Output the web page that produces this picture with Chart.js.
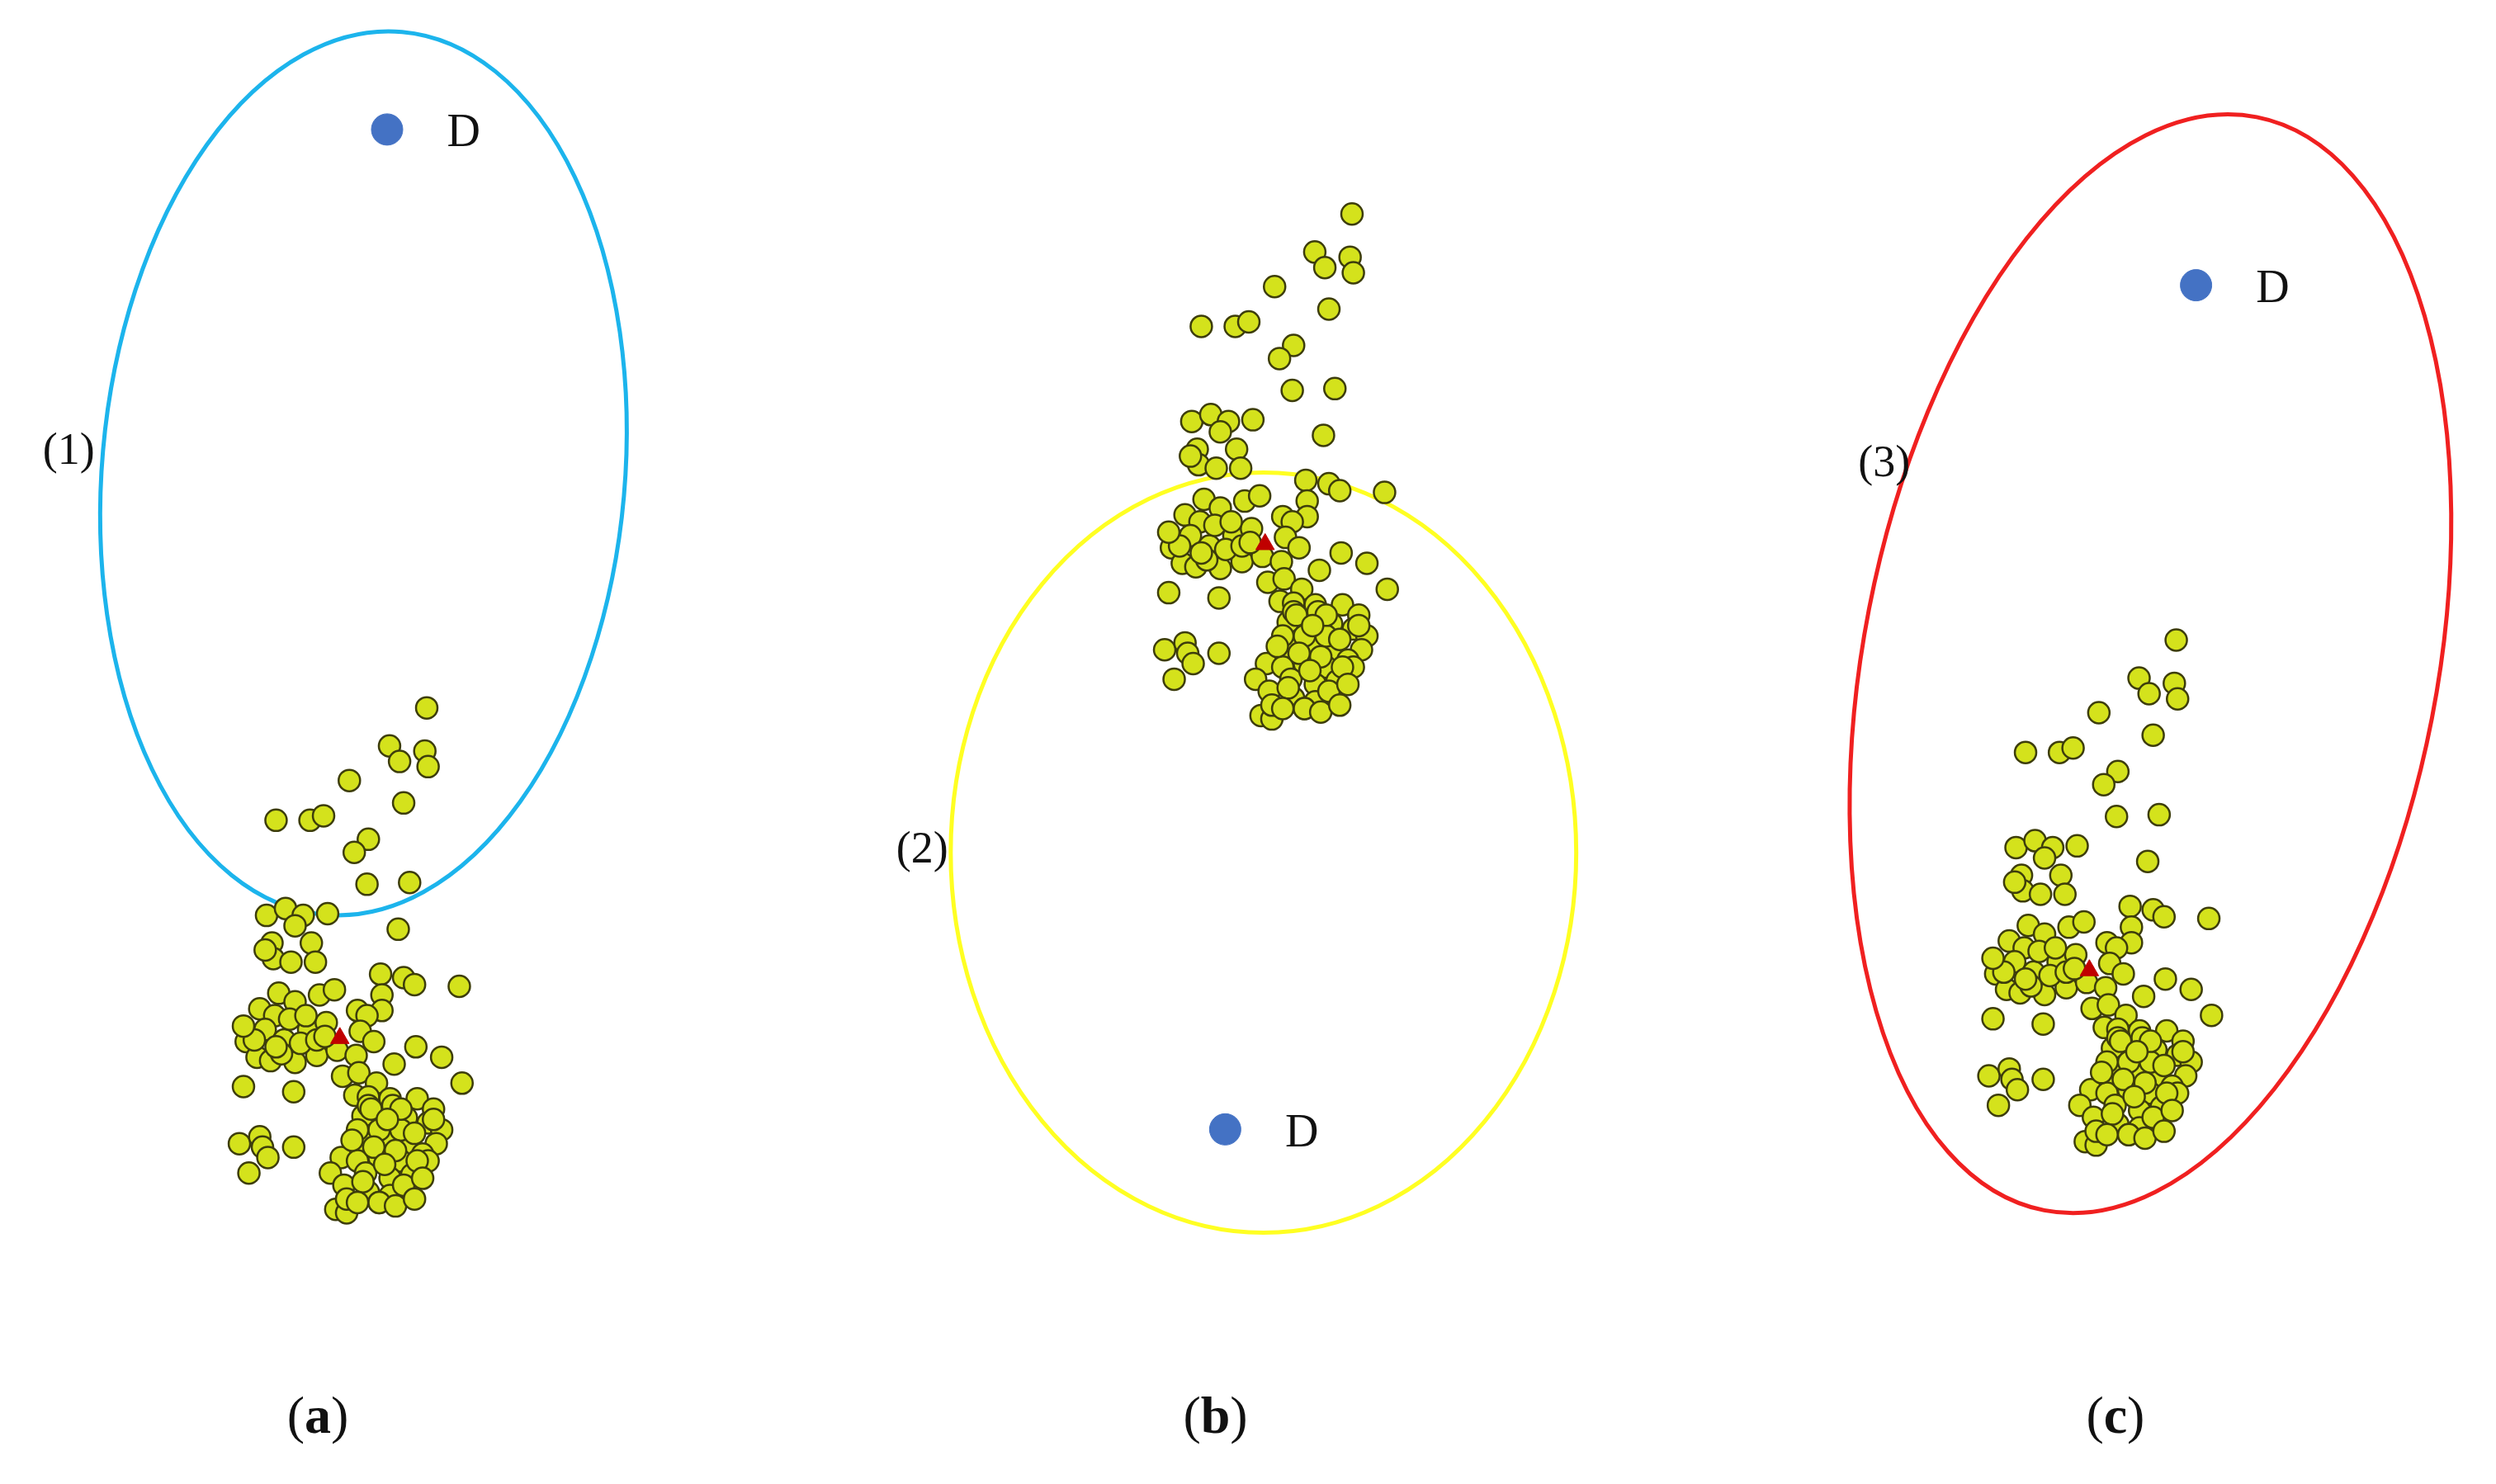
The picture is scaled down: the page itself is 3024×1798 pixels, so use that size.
<!DOCTYPE html>
<html>
<head>
<meta charset="utf-8">
<script src="https://cdn.jsdelivr.net/npm/chart.js@4/dist/chart.umd.min.js"></script>
<style>
  html, body { margin: 0; padding: 0; background: #fff; }
</style>
</head>
<body>
<canvas id="chart" width="3024" height="1798"></canvas>
<script>
// panel data, in picture units (x right, y down)
const panels = ['a', 'b', 'c'];
const triangleX = [397, 1533, 2545];
const triangleY = [1266, 654, 1182];
const destX = [455, 1484, 2676];
const destY = [140, 1379, 333];
const ellipseX = [426, 1531, 2620];
const ellipseY = [566, 1036, 802];
const ellipseRx = [321, 384, 352];
const ellipseRy = [549, 471, 690];
const ellipseTilt = [5, 0, 11];
const ellipseColors = ['#1cb4ec', '#ffff22', '#f02020'];
const ellipseNames = ['(1)', '(2)', '(3)'];
const ellipseNameX = [64, 1112, 2293];
const ellipseNameY = [540, 1034, 555];
const captionX = [370, 1472, 2577];

// cluster, as positions in a crop around the red triangle
const clusterZoomX = [735,598,635,728,740,450,650,180,305,355,520,468,515,672,145,215,280,370,250,630,
  165,310,170,235,325,140,
  565,650,690,855,570,190,340,395,120,175,250,480,570,515,70,140,210,300,365,490,540,110,160,250,330,405,475,270,60,245,615,695,790,865,425,485,550,470,
  520,600,700,760,500,580,660,740,790,510,590,670,770,720,420,480,560,640,380,510,600,680,430,520,600,670,400,440,560,
  45,120,130,150,80,245,
  230,290,330,200,100,60,180,360,610,520,640,560,480,690,740,620,540,700,460,650,580,500,440,720,760,640,560,480,620,690,530,590];
const clusterZoomY = [40,150,195,165,210,250,315,365,365,352,420,458,550,545,640,620,640,635,670,680,
  720,720,765,775,775,740,
  810,820,840,845,870,865,870,855,910,930,890,915,915,930,1005,970,1000,970,950,975,1005,1050,1060,1065,1045,1030,1045,1010,1135,1150,1070,1020,1050,1125,1105,1095,1125,1160,
  1165,1170,1170,1200,1220,1230,1225,1240,1260,1300,1290,1300,1300,1330,1340,1350,1340,1350,1385,1385,1400,1390,1420,1440,1450,1430,1490,1500,1470,
  1300,1280,1310,1340,1385,1310,
  940,930,1000,1040,1000,960,1020,990,1190,1190,1260,1260,1260,1270,1350,1320,1310,1350,1290,1420,1360,1410,1460,1400,1230,1200,1470,1470,1480,1460,1200,1230];

function clusterFor(i) {
  return clusterZoomX.map((zx, k) => ({
    x: triangleX[i] + (zx - 415) / 3,
    y: triangleY[i] + (clusterZoomY[k] - 995) * 0.4286
  }));
}

const serif = '"Liberation Serif", "DejaVu Serif", serif';

const overlay = {
  id: 'overlay',
  beforeDatasetsDraw(chart) {
    const { ctx, scales: { x, y } } = chart;
    ctx.save();
    ctx.lineWidth = 5;
    panels.forEach((p, i) => {
      const cx = x.getPixelForValue(ellipseX[i]);
      const cy = y.getPixelForValue(ellipseY[i]);
      const rx = x.getPixelForValue(ellipseX[i] + ellipseRx[i]) - cx;
      const ry = y.getPixelForValue(ellipseY[i] + ellipseRy[i]) - cy;
      ctx.strokeStyle = ellipseColors[i];
      ctx.beginPath();
      ctx.ellipse(cx, cy, Math.abs(rx), Math.abs(ry), ellipseTilt[i] * Math.PI / 180, 0, Math.PI * 2);
      ctx.stroke();
    });
    ctx.restore();
  },
  afterDatasetsDraw(chart) {
    const { ctx, scales: { x, y } } = chart;
    ctx.save();
    ctx.fillStyle = '#111';
    ctx.textBaseline = 'middle';
    ctx.textAlign = 'center';
    panels.forEach((p, i) => {
      ctx.font = '56px ' + serif;
      ctx.fillText('D', x.getPixelForValue(destX[i] + 94), y.getPixelForValue(destY[i] + 6));
      ctx.font = '54px ' + serif;
      ctx.fillText(ellipseNames[i], x.getPixelForValue(ellipseNameX[i]), y.getPixelForValue(ellipseNameY[i]));
      // panel caption "(a)" with bold letter
      const px = x.getPixelForValue(captionX[i]);
      const py = y.getPixelForValue(1738);
      ctx.font = '64px ' + serif;
      const w1 = ctx.measureText('(').width;
      ctx.font = 'bold 64px ' + serif;
      const w2 = ctx.measureText(p).width;
      const total = w1 * 2 + w2;
      ctx.textAlign = 'left';
      ctx.font = '64px ' + serif;
      ctx.fillText('(', px - total / 2, py);
      ctx.font = 'bold 64px ' + serif;
      ctx.fillText(p, px - total / 2 + w1, py);
      ctx.font = '64px ' + serif;
      ctx.fillText(')', px - total / 2 + w1 + w2, py);
      ctx.textAlign = 'center';
    });
    ctx.restore();
  }
};

const datasets = panels.map((p, i) => ({
  label: 'cluster ' + p,
  data: clusterFor(i),
  order: 2,
  pointRadius: 13,
  pointBackgroundColor: '#d4e21c',
  pointBorderColor: '#3d3d0c',
  pointBorderWidth: 2.5,
  showLine: false
}));
datasets.push({
  label: 'origin',
  data: triangleX.map((v, i) => ({ x: v, y: triangleY[i] })),
  order: 0,
  pointStyle: 'triangle',
  pointRadius: 13,
  pointBackgroundColor: '#c00000',
  pointBorderColor: '#c00000',
  showLine: false
});
datasets.push({
  label: 'D',
  data: destX.map((v, i) => ({ x: v, y: destY[i] })),
  order: 0,
  pointRadius: 19,
  pointBackgroundColor: '#4472c4',
  pointBorderColor: '#4472c4',
  showLine: false
});

new Chart(document.getElementById('chart'), {
  type: 'scatter',
  data: { datasets: datasets },
  options: {
    responsive: false,
    animation: false,
    devicePixelRatio: 1,
    layout: { padding: 0 },
    plugins: { legend: { display: false }, tooltip: { enabled: false } },
    scales: {
      x: { type: 'linear', min: 0, max: 3024, display: false },
      y: { type: 'linear', min: 0, max: 1798, reverse: true, display: false }
    }
  },
  plugins: [overlay]
});
</script>
</body>
</html>
